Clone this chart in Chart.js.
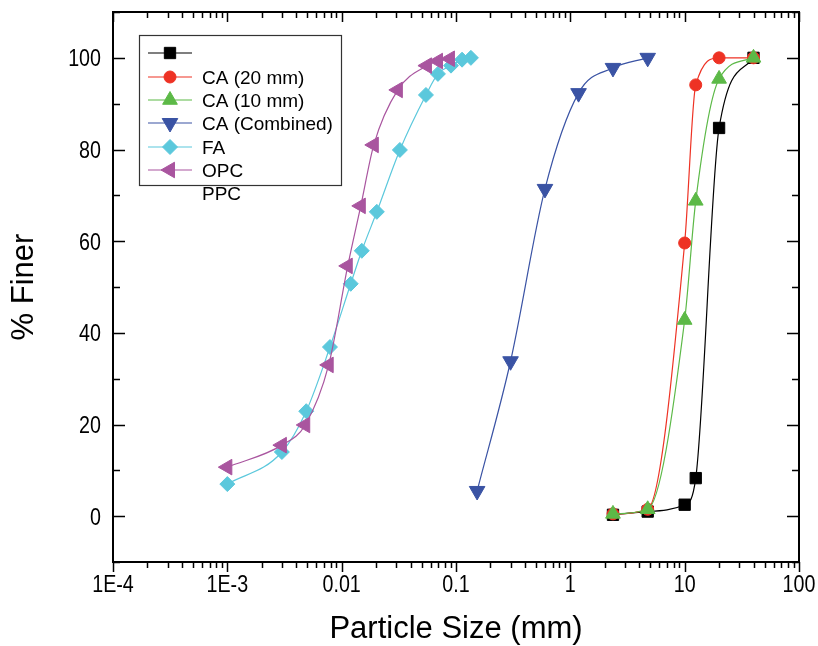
<!DOCTYPE html>
<html>
<head>
<meta charset="utf-8">
<script src="https://cdn.jsdelivr.net/npm/chart.js@4.4.1/dist/chart.umd.min.js"></script>
<style>
  html, body { margin: 0; padding: 0; background: #fff; }
  #c { display: block; }
</style>
</head>
<body>
<canvas id="c" width="818" height="646"></canvas>
<script>
// Datos (tamaño en mm, % que pasa)
const caSieves   = [2.36, 4.75, 10, 12.5, 20, 40];
const caUnnamed  = [0.3, 1.0, 2.5, 8.3, 84.7, 100];
const ca20       = [0.5, 1.5, 59.6, 94.1, 100, 100];
const ca10       = [0.5, 1.5, 42.8, 68.8, 95.4, 100];

const caCombSize = [0.153, 0.3, 0.6, 1.18, 2.36, 4.75];
const caComb     = [5.5, 33.8, 71.4, 92.3, 97.8, 100];

const faSize = [0.001, 0.003, 0.0049, 0.0079, 0.012, 0.015, 0.0203, 0.0323, 0.0546, 0.0695, 0.0904, 0.113, 0.135];
const fa     = [7.0, 14.0, 22.9, 36.9, 50.7, 57.9, 66.4, 79.9, 91.9, 96.5, 98.3, 99.6, 100];

const opcSize = [0.001, 0.003, 0.0048, 0.0077, 0.0113, 0.0147, 0.0191, 0.031, 0.0557, 0.0696, 0.0885];
const opc     = [10.7, 15.5, 19.9, 33.0, 54.6, 67.7, 81.0, 93.0, 98.3, 99.3, 99.8];

const xTickVals   = [1e-4, 1e-3, 0.01, 0.1, 1, 10, 100];
const xTickLabels = ["1E-4", "1E-3", "0.01", "0.1", "1", "10", "100"];
const yTickVals   = [0, 20, 40, 60, 80, 100];
const yTickLabels = ["0", "20", "40", "60", "80", "100"];

const xTitle = "Particle Size (mm)";
const yTitle = "% Finer";
const legendLabels = ["", "CA (20 mm)", "CA (10 mm)", "CA (Combined)", "FA", "OPC", "PPC"];

const REGULAR = '"Liberation Sans", Arial, sans-serif';

const pts = (xs, ys) => xs.map((x, i) => ({ x, y: ys[i] }));

function serie(label, xs, ys, color, style, radius, rotation, order){
  return {
    label, data: pts(xs, ys), order,
    borderColor: color, backgroundColor: color,
    pointBackgroundColor: color, pointBorderColor: color,
    pointStyle: style, pointRadius: radius, pointHoverRadius: radius,
    pointRotation: rotation, pointBorderWidth: 1,
    borderWidth: 1.2, cubicInterpolationMode: "monotone", fill: false
  };
}

const datasets = [
  serie("",              caSieves,   caUnnamed, "#000000", "rect",     8,   0,   6),
  serie("CA (20 mm)",    caSieves,   ca20,      "#ee3224", "circle",   6,   0,   5),
  serie("CA (10 mm)",    caSieves,   ca10,      "#5cb947", "triangle", 8.5, 0,   4),
  serie("CA (Combined)", caCombSize, caComb,    "#3a53a4", "triangle", 9,   180, 3),
  serie("FA",            faSize,     fa,        "#5bc8dc", "rectRot",  7.5, 0,   2),
  serie("OPC",           opcSize,    opc,       "#a9559f", "triangle", 9,   270, 1)
];

// Dibuja un marcador simple (para la leyenda)
function marker(ctx, style, rot, r, x, y){
  ctx.beginPath();
  if (style === "circle"){
    ctx.arc(x, y, r, 0, Math.PI * 2);
  } else if (style === "rect"){
    const s = Math.SQRT1_2 * r;
    ctx.rect(x - s, y - s, 2 * s, 2 * s);
  } else if (style === "rectRot"){
    ctx.moveTo(x - r, y); ctx.lineTo(x, y - r); ctx.lineTo(x + r, y); ctx.lineTo(x, y + r);
    ctx.closePath();
  } else if (style === "triangle"){
    let a = rot * Math.PI / 180;
    for (let k = 0; k < 3; k++){
      const px = x + Math.sin(a) * r, py = y - Math.cos(a) * r;
      k ? ctx.lineTo(px, py) : ctx.moveTo(px, py);
      a += 2 * Math.PI / 3;
    }
    ctx.closePath();
  }
  ctx.fill();
  ctx.stroke();
}

// Texto estrecho (tipo Arial Narrow) escalando Liberation Sans
function narrowText(ctx, txt, x, y, align, size){
  ctx.save();
  ctx.translate(x, y);
  ctx.scale(0.82, 1);
  ctx.font = size + "px " + REGULAR;
  ctx.textAlign = align;
  ctx.textBaseline = "alphabetic";
  ctx.fillText(txt, 0, 0);
  ctx.restore();
}

// Marco, ticks, etiquetas y leyenda
const framePlugin = {
  id: "frame",
  afterDraw(chart){
    const { ctx, chartArea: a, scales: { x, y } } = chart;
    ctx.save();
    ctx.strokeStyle = "#000";
    ctx.fillStyle = "#000";
    ctx.lineWidth = 1.5;
    ctx.beginPath();
    for (let e = -4; e <= 2; e++){
      for (let m = 1; m <= 9; m++){
        const v = m * Math.pow(10, e);
        if (v > 100.0001) break;
        const px = Math.round(x.getPixelForValue(v)) + 0.5;
        const len = m === 1 ? 10 : 6;
        ctx.moveTo(px, a.bottom); ctx.lineTo(px, a.bottom + len);
        ctx.moveTo(px, a.top);    ctx.lineTo(px, a.top + len);
      }
    }
    for (let v = -10; v <= 110; v += 10){
      const py = Math.round(y.getPixelForValue(v)) + 0.5;
      const len = v % 20 === 0 ? 12 : 7;
      ctx.moveTo(a.left, py);  ctx.lineTo(a.left + len, py);
      ctx.moveTo(a.right, py); ctx.lineTo(a.right - len, py);
    }
    ctx.stroke();
    ctx.lineWidth = 2;
    ctx.strokeRect(a.left, a.top, a.right - a.left, a.bottom - a.top);

    // Etiquetas de los ejes
    xTickVals.forEach((v, i) => narrowText(ctx, xTickLabels[i], x.getPixelForValue(v), a.bottom + 30, "center", 24));
    yTickVals.forEach((v, i) => narrowText(ctx, yTickLabels[i], a.left - 12, y.getPixelForValue(v) + 8.6, "right", 24));

    ctx.font = "31px " + REGULAR;
    ctx.textAlign = "center";
    ctx.textBaseline = "alphabetic";
    ctx.fillText(xTitle, (a.left + a.right) / 2, 638);
    ctx.save();
    ctx.translate(33, (a.top + a.bottom) / 2);
    ctx.rotate(-Math.PI / 2);
    ctx.fillText(yTitle, 0, 0);
    ctx.restore();

    // Leyenda
    ctx.lineWidth = 1.2;
    ctx.strokeStyle = "#333";
    ctx.strokeRect(139.5, 35.5, 202, 150);
    const rowY = [53, 77, 100, 123, 147, 170, 193];
    ctx.font = "19px " + REGULAR;
    ctx.textAlign = "left";
    legendLabels.forEach((lab, i) => {
      const yy = rowY[i];
      const ds = datasets[i];
      if (ds){
        ctx.strokeStyle = ds.borderColor;
        ctx.fillStyle = ds.borderColor;
        ctx.lineWidth = 1.2;
        ctx.beginPath(); ctx.moveTo(148, yy); ctx.lineTo(192, yy); ctx.stroke();
        ctx.lineWidth = 1;
        marker(ctx, ds.pointStyle, ds.pointRotation, ds.pointRadius, 170, yy);
      }
      ctx.fillStyle = "#000";
      ctx.fillText(lab, 202, yy + 7);
    });
    ctx.restore();
  }
};

new Chart(document.getElementById("c"), {
  type: "line",
  data: { datasets },
  options: {
    responsive: false,
    animation: false,
    layout: { padding: { top: 12, right: 19, left: 0, bottom: 0 } },
    plugins: { legend: { display: false }, tooltip: { enabled: false } },
    scales: {
      x: {
        type: "logarithmic", min: 1e-4, max: 100,
        afterFit: s => { s.height = 84; },
        grid: { display: false, drawTicks: false },
        border: { display: false },
        ticks: { display: false }
      },
      y: {
        min: -10, max: 110,
        afterFit: s => { s.width = 113; },
        grid: { display: false, drawTicks: false },
        border: { display: false },
        ticks: { display: false }
      }
    }
  },
  plugins: [framePlugin]
});
</script>
</body>
</html>
